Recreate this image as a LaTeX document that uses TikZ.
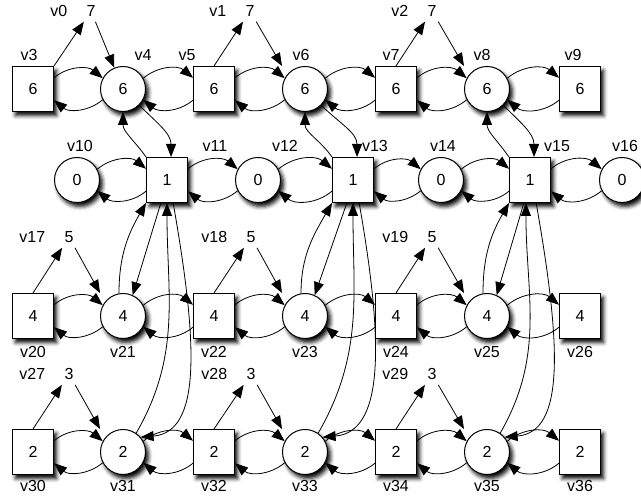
\documentclass[tikz,border=0pt]{standalone}
\usepackage{fontspec}
\setmainfont{Liberation Sans}
\usetikzlibrary{arrows.meta,shadows.blur}
\tikzset{
  boxnode/.style ={rectangle,draw=black,line width=1pt,fill=white,inner sep=0pt,
                   minimum width=41pt,minimum height=45pt,
                   blur shadow={shadow xshift=3pt,shadow yshift=-4pt,shadow blur radius=4pt,shadow opacity=100}},
  ringnode/.style={circle,draw=black,line width=1pt,fill=white,inner sep=0pt,minimum size=45pt,
                   blur shadow={shadow xshift=3pt,shadow yshift=-4pt,shadow blur radius=4pt,shadow opacity=100}},
  numnode/.style ={inner sep=5pt},
  tag/.style     ={inner sep=0pt},
  flow/.style    ={-{Triangle[length=13pt,width=10pt]},line width=0.8pt},
  arcup/.style   ={out=40,in=140},
  arcdown/.style ={out=-140,in=-40},
}
\begin{document}
\begin{tikzpicture}[x=1pt,y=1pt,font=\fontsize{16}{19}\selectfont,label distance=5pt]
  \useasboundingbox (0,0) rectangle (641,497);
  % row 1
  \node[boxnode,label={[tag,xshift=-4pt]above:v3}]   (v3) at (33,408)  {6};
  \node[ringnode,label={[tag,xshift=20pt]above:v4}]  (v4) at (123,408) {6};
  \node[boxnode,label={[tag,xshift=-27pt]above:v5}]  (v5) at (214,408) {6};
  \node[ringnode,label={[tag,xshift=-4pt]above:v6}]  (v6) at (305,408) {6};
  \node[boxnode,label={[tag,xshift=-5pt]above:v7}]   (v7) at (396,408) {6};
  \node[ringnode,label={[tag,xshift=-5pt]above:v8}]  (v8) at (487,408) {6};
  \node[boxnode,label={[tag,xshift=-7pt]above:v9}]   (v9) at (580,408) {6};
  % row 2
  \node[ringnode,label={[tag,xshift=3pt]above:v10}]  (v10) at (77,317)  {0};
  \node[boxnode,label={[tag,xshift=48pt]above:v11}]  (v11) at (167,317) {1};
  \node[ringnode,label={[tag,xshift=27pt]above:v12}] (v12) at (258,317) {0};
  \node[boxnode,label={[tag,xshift=22pt]above:v13}]  (v13) at (353,317) {1};
  \node[ringnode,label={[tag,xshift=2pt]above:v14}]  (v14) at (441,317) {0};
  \node[boxnode,label={[tag,xshift=27pt]above:v15}]  (v15) at (530,317) {1};
  \node[ringnode,label={[tag,xshift=3pt]above:v16}]  (v16) at (622,317) {0};
  % row 3
  \node[boxnode,label={[tag,yshift=-2pt]below:v20}]  (v20) at (33,181)  {4};
  \node[ringnode,label={[tag,yshift=-2pt]below:v21}] (v21) at (123,181) {4};
  \node[boxnode,label={[tag,yshift=-2pt]below:v22}]  (v22) at (214,181) {4};
  \node[ringnode,label={[tag,yshift=-2pt]below:v23}] (v23) at (305,181) {4};
  \node[boxnode,label={[tag,yshift=-2pt]below:v24}]  (v24) at (396,181) {4};
  \node[ringnode,label={[tag,yshift=-2pt]below:v25}] (v25) at (487,181) {4};
  \node[boxnode,label={[tag,yshift=-2pt]below:v26}]  (v26) at (580,181) {4};
  % row 4
  \node[boxnode,label={[tag]below:v30}]  (v30) at (33,45)  {2};
  \node[ringnode,label={[tag]below:v31}] (v31) at (123,45) {2};
  \node[boxnode,label={[tag]below:v32}]  (v32) at (214,45) {2};
  \node[ringnode,label={[tag]below:v33}] (v33) at (305,45) {2};
  \node[boxnode,label={[tag]below:v34}]  (v34) at (396,45) {2};
  \node[ringnode,label={[tag]below:v35}] (v35) at (487,45) {2};
  \node[boxnode,label={[tag]below:v36}]  (v36) at (580,45) {2};
  % sources
  \node[numnode,label={[tag,xshift=-9pt]left:v0}]  (v0)  at (91,486)  {7};
  \node[numnode,label={[tag,xshift=-9pt]left:v1}]  (v1)  at (250,486) {7};
  \node[numnode,label={[tag,xshift=-9pt]left:v2}]  (v2)  at (432,486) {7};
  \node[numnode,label={[tag,xshift=-9pt]left:v17}] (v17) at (69,260)  {5};
  \node[numnode,label={[tag,xshift=-9pt]left:v18}] (v18) at (251,260) {5};
  \node[numnode,label={[tag,xshift=-9pt]left:v19}] (v19) at (432,260) {5};
  \node[numnode,label={[tag,xshift=-9pt]left:v27}] (v27) at (69,123)  {3};
  \node[numnode,label={[tag,xshift=-9pt]left:v28}] (v28) at (251,123) {3};
  \node[numnode,label={[tag,xshift=-9pt]left:v29}] (v29) at (432,123) {3};

  \draw[flow] (v3.north east) -- (v0);  \draw[flow] (v0) -- (v4);
  \draw[flow] (v5.north) -- (v1);       \draw[flow] (v1) -- (v6.west |- v6.north);
  \draw[flow] (v7.north) -- (v2);       \draw[flow] (v2) -- (v8.west |- v8.north);
  \draw[flow] (v20.north) -- (v17);     \draw[flow] (v17) -- (v21.west |- v21.north);
  \draw[flow] (v22.north) -- (v18);     \draw[flow] (v18) -- (v23.west |- v23.north);
  \draw[flow] (v24.north) -- (v19);     \draw[flow] (v19) -- (v25.west |- v25.north);
  \draw[flow] (v30.north) -- (v27);     \draw[flow] (v27) -- (v31.west |- v31.north);
  \draw[flow] (v32.north) -- (v28);     \draw[flow] (v28) -- (v33.west |- v33.north);
  \draw[flow] (v34.north) -- (v29);     \draw[flow] (v29) -- (v35.west |- v35.north);

  \draw[flow] (v3.28) to[arcup] (v4.152);   \draw[flow] (v4.208) to[arcdown] (v3.-28);
  \draw[flow] (v4.28) to[arcup] (v5.152);   \draw[flow] (v5.208) to[arcdown] (v4.-28);
  \draw[flow] (v5.28) to[arcup] (v6.152);   \draw[flow] (v6.208) to[arcdown] (v5.-28);
  \draw[flow] (v6.28) to[arcup] (v7.152);   \draw[flow] (v7.208) to[arcdown] (v6.-28);
  \draw[flow] (v7.28) to[arcup] (v8.152);   \draw[flow] (v8.208) to[arcdown] (v7.-28);
  \draw[flow] (v8.28) to[arcup] (v9.152);   \draw[flow] (v9.208) to[arcdown] (v8.-28);

  \draw[flow] (v10.28) to[arcup] (v11.152); \draw[flow] (v11.208) to[arcdown] (v10.-28);
  \draw[flow] (v11.28) to[arcup] (v12.152); \draw[flow] (v12.208) to[arcdown] (v11.-28);
  \draw[flow] (v12.28) to[arcup] (v13.152); \draw[flow] (v13.208) to[arcdown] (v12.-28);
  \draw[flow] (v13.28) to[arcup] (v14.152); \draw[flow] (v14.208) to[arcdown] (v13.-28);
  \draw[flow] (v14.28) to[arcup] (v15.152); \draw[flow] (v15.208) to[arcdown] (v14.-28);
  \draw[flow] (v15.28) to[arcup] (v16.152); \draw[flow] (v16.208) to[arcdown] (v15.-28);

  \draw[flow] (v20.28) to[arcup] (v21.152); \draw[flow] (v21.208) to[arcdown] (v20.-28);
  \draw[flow] (v21.28) to[arcup] (v22.152); \draw[flow] (v22.208) to[arcdown] (v21.-28);
  \draw[flow] (v22.28) to[arcup] (v23.152); \draw[flow] (v23.208) to[arcdown] (v22.-28);
  \draw[flow] (v23.28) to[arcup] (v24.152); \draw[flow] (v24.208) to[arcdown] (v23.-28);
  \draw[flow] (v24.28) to[arcup] (v25.152); \draw[flow] (v25.208) to[arcdown] (v24.-28);
  \draw[flow] (v25.28) to[arcup] (v26.152); \draw[flow] (v26.208) to[arcdown] (v25.-28);

  \draw[flow] (v30.28) to[arcup] (v31.152); \draw[flow] (v31.208) to[arcdown] (v30.-28);
  \draw[flow] (v31.28) to[arcup] (v32.152); \draw[flow] (v32.208) to[arcdown] (v31.-28);
  \draw[flow] (v32.28) to[arcup] (v33.152); \draw[flow] (v33.208) to[arcdown] (v32.-28);
  \draw[flow] (v33.28) to[arcup] (v34.152); \draw[flow] (v34.208) to[arcdown] (v33.-28);
  \draw[flow] (v34.28) to[arcup] (v35.152); \draw[flow] (v35.208) to[arcdown] (v34.-28);
  \draw[flow] (v35.28) to[arcup] (v36.152); \draw[flow] (v36.208) to[arcdown] (v35.-28);

  \draw[flow] (v4.-45) to[out=-45,in=90] (v11.80);
  \draw[flow] (v11.north west) to[out=125,in=-90] (v4.south);
  \draw[flow] (v11.-105) -- (v21.65);
  \draw[flow] (v21.100) to[out=90,in=-120] (v11.south west);
  \draw[flow] (v31.55) to[out=60,in=-90] (v11.south);
  \draw[flow] (v11.-75) to[out=-80,in=5,out looseness=1.6,in looseness=0.65] (v31.40);

  \draw[flow] (v6.-45) to[out=-45,in=90] (v13.80);
  \draw[flow] (v13.north west) to[out=125,in=-90] (v6.south);
  \draw[flow] (v13.-105) -- (v23.65);
  \draw[flow] (v23.100) to[out=90,in=-120] (v13.south west);
  \draw[flow] (v33.55) to[out=60,in=-90] (v13.south);
  \draw[flow] (v13.-75) to[out=-80,in=5,out looseness=1.6,in looseness=0.65] (v33.40);

  \draw[flow] (v8.-45) to[out=-45,in=90] (v15.80);
  \draw[flow] (v15.north west) to[out=125,in=-90] (v8.south);
  \draw[flow] (v15.-105) -- (v25.65);
  \draw[flow] (v25.100) to[out=90,in=-120] (v15.south west);
  \draw[flow] (v35.55) to[out=60,in=-90] (v15.-100);
  \draw[flow] (v15.-75) to[out=-80,in=5,out looseness=1.6,in looseness=0.65] (v35.40);
\end{tikzpicture}
\end{document}
